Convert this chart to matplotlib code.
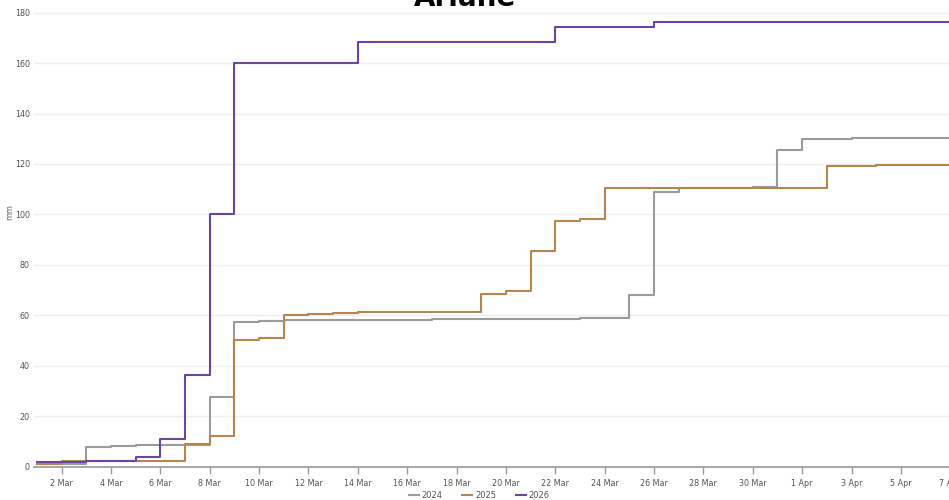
import numpy as np
import pandas as pd
import matplotlib
matplotlib.use("Agg")
import matplotlib.pyplot as plt

# Cumulative rainfall (mm), one value per day from 1 Mar to 7 Apr
dates = pd.date_range("2026-03-01", "2026-04-07", freq="D")

rain_2024 = [1.0, 1.2, 7.8, 8.3, 8.7, 8.7, 8.8, 27.5, 57.2, 57.9,
             58.0, 58.0, 58.0, 58.0, 58.2, 58.2, 58.5, 58.5, 58.6, 58.6,
             58.7, 58.7, 58.8, 59.0, 68.2, 108.9, 110.3, 110.4, 110.5, 110.7,
             125.6, 129.8, 129.9, 130.1, 130.3, 130.3, 130.3, 130.3]
rain_2025 = [1.0, 2.2, 2.2, 2.2, 2.3, 2.3, 8.9, 12.3, 50.4, 51.2,
             60.3, 60.4, 60.8, 61.4, 61.4, 61.4, 61.4, 61.4, 68.4, 69.6,
             85.4, 97.3, 98.2, 110.3, 110.3, 110.3, 110.3, 110.3, 110.3, 110.3,
             110.3, 110.3, 119.3, 119.3, 119.5, 119.5, 119.5, 119.5]
rain_2026 = [2.0, 2.0, 2.1, 2.1, 4.0, 11.0, 36.2, 100.2, 160.0, 160.0,
             160.0, 160.0, 160.0, 168.2, 168.2, 168.2, 168.2, 168.2, 168.2, 168.2,
             168.2, 174.4, 174.4, 174.4, 174.4, 176.2, 176.2, 176.3, 176.3, 176.3,
             176.3, 176.3, 176.3, 176.3, 176.3, 176.3, 176.3, 176.3]

years = ["2024", "2025", "2026"]
colors = ["#9b9b9b", "#b5874f", "#6a45a3"]
series = [rain_2024, rain_2025, rain_2026]

fig = plt.figure(figsize=(9.49, 5.0), dpi=100)
ax = fig.add_axes([34 / 949, 33.3 / 500, (951 - 34) / 949, 466.7 / 500])

for year, vals, c in zip(years, series, colors):
    ax.plot(dates, vals, drawstyle="steps-post", color=c, lw=1.5, label=year, zorder=3)

start = dates[0]
ax.set_xlim(start - pd.Timedelta(hours=2.9), start + pd.Timedelta(days=37.03))
ax.set_ylim(0, 185)

# a tick every second day, 2 Mar .. 7 Apr
tick_days = pd.date_range("2026-03-02", "2026-04-07", freq="2D")
ax.set_xticks(tick_days)
ax.set_xticklabels([f"{d.day} {d.strftime('%b')}" for d in tick_days])
ax.set_yticks(np.arange(0, 181, 20))

ax.grid(axis="y", color="#eeeeee", lw=1.0)
ax.set_axisbelow(True)
for s in ["top", "right", "left"]:
    ax.spines[s].set_visible(False)
ax.spines["bottom"].set_color("#9a9a9a")
ax.spines["bottom"].set_linewidth(1.2)

ax.tick_params(axis="x", length=5, width=1.0, color="#9a9a9a", pad=4,
               labelsize=5.8, labelcolor="#555555")
ax.tick_params(axis="y", length=0, pad=3, labelsize=5.8, labelcolor="#555555")

ax.set_ylabel("mm", fontsize=5.8, color="#666666")
ax.yaxis.set_label_coords(-0.022, 0.546)

# title sits partly above the top edge, as in the source image
fig.text(0.490, 1 - 5.5 / 500, "Ariane", ha="center", va="baseline",
         fontsize=20, fontweight="bold", color="black")

fig.legend(loc="center", bbox_to_anchor=(0.505, 0.009), ncol=3, frameon=False,
           fontsize=6, handlelength=1.2, handletextpad=0.3, columnspacing=2.4,
           labelcolor="#555555")

fig.savefig("out.png", dpi=100)
